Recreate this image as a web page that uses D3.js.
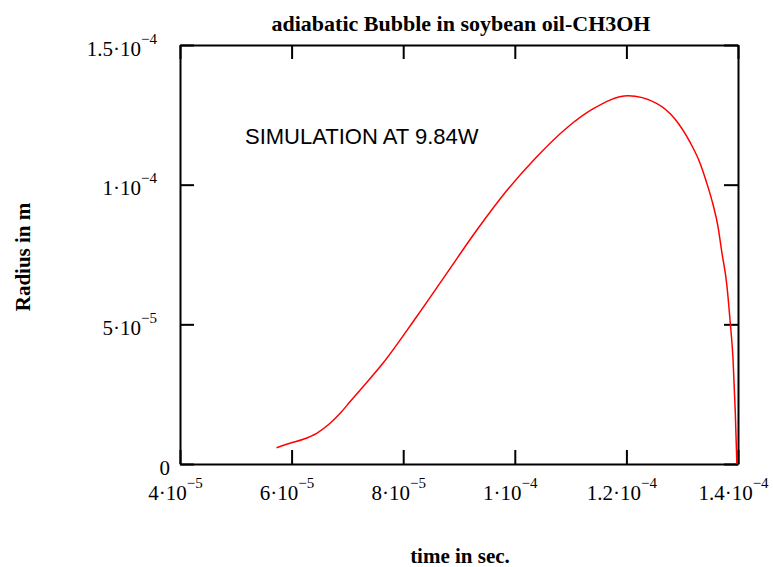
<!DOCTYPE html>
<html>
<head>
<meta charset="utf-8">
<script src="https://cdn.jsdelivr.net/npm/d3@7"></script>
<style>
  body { margin: 0; background: #fff; }
  .ejes path, .ejes line { stroke: #000; stroke-width: 2; }
  .ejes text { font-family: 'Liberation Serif', serif; font-size: 21px; fill: #000; }
</style>
</head>
<body>
<div id="graf"></div>
<script>
// tiempo (s) y radio (m)
const tiempo = [5.73e-5, 5.97e-5, 6.21e-5, 6.45e-5, 6.69e-5, 6.87e-5, 7.05e-5, 7.28e-5, 7.64e-5,
  8.24e-5, 8.78e-5, 9.32e-5, 9.85e-5, 10.39e-5, 10.93e-5, 11.40e-5, 12.03e-5, 12.54e-5,
  12.87e-5, 13.14e-5, 13.32e-5, 13.44e-5, 13.55e-5, 13.64e-5, 13.71e-5, 13.80e-5, 13.86e-5,
  13.91e-5, 13.95e-5, 13.98e-5]
const radio = [0.583e-5, 0.741e-5, 0.884e-5, 1.099e-5, 1.457e-5, 1.815e-5, 2.237e-5, 2.767e-5, 3.615e-5,
  5.272e-5, 6.825e-5, 8.375e-5, 9.771e-5, 10.99e-5, 12.03e-5, 12.71e-5, 13.18e-5, 12.91e-5,
  12.35e-5, 11.52e-5, 10.77e-5, 10.06e-5, 9.306e-5, 8.518e-5, 7.588e-5, 6.407e-5, 5.082e-5,
  3.794e-5, 1.933e-5, 0]

const xTicks = [4e-5, 6e-5, 8e-5, 1e-4, 1.2e-4, 1.4e-4]
const yTicks = [0, 5e-5, 1e-4, 1.5e-4]

const titulo = 'adiabatic Bubble in soybean oil-CH3OH'
const txtX = 'time in sec.'
const txtY = 'Radius in m'
const nota = { texto: 'SIMULATION AT 9.84W', t: 5.165e-5, r: 11.45e-5 }

const data = tiempo.map((t, i) => ({ t: t, r: radio[i] }))

const anchoTotal = 773
const altoTotal = 567

const margin = { top: 45, bottom: 103, left: 180, right: 35 }
const ancho = anchoTotal - margin.left - margin.right
const alto = altoTotal - margin.top - margin.bottom

const svg = d3.select('#graf')
  .append('svg')
  .attr('width', anchoTotal)
  .attr('height', altoTotal)

const g = svg.append('g')
  .attr('transform', `translate(${margin.left}, ${margin.top})`)

const x = d3.scaleLinear()
  .domain([4e-5, 1.4e-4])
  .range([0, ancho])

const y = d3.scaleLinear()
  .domain([0, 1.5e-4])
  .range([alto, 0])

// mantisa·10 con exponente en superindice
function sci(sel) {
  sel.each(function(d) {
    const t = d3.select(this).text('')
    if (d === 0) { t.text('0'); return }
    const e = Math.floor(Math.log10(d) + 1e-9)
    const m = +(d / Math.pow(10, e)).toFixed(2)
    t.append('tspan').text(`${m}\u00b710`)
    t.append('tspan')
      .attr('dy', -12)
      .style('font-size', '15px')
      .text(`\u2212${-e}`)
  })
}

const xAxisGroup = g.append('g')
  .attr('class', 'ejes')
  .attr('transform', `translate(0, ${alto})`)
  .call(d3.axisBottom(x).tickValues(xTicks).tickSizeInner(-14).tickSizeOuter(0))

xAxisGroup.selectAll('.tick text')
  .attr('dy', null)
  .attr('y', 36)
  .attr('x', -5)
  .call(sci)

const yAxisGroup = g.append('g')
  .attr('class', 'ejes')
  .call(d3.axisLeft(y).tickValues(yTicks).tickSizeInner(-14).tickSizeOuter(0))

yAxisGroup.selectAll('.tick text')
  .attr('dy', null)
  .attr('y', 10)
  .attr('x', d => d === 0 ? -10 : -23)
  .call(sci)

g.append('g')
  .attr('class', 'ejes')
  .call(d3.axisTop(x).tickValues(xTicks).tickSizeInner(-14).tickSizeOuter(0).tickFormat(''))

g.append('g')
  .attr('class', 'ejes')
  .attr('transform', `translate(${ancho}, 0)`)
  .call(d3.axisRight(y).tickValues(yTicks).tickSizeInner(-14).tickSizeOuter(0).tickFormat(''))

const linea = d3.line()
  .x(d => x(d.t))
  .y(d => y(d.r))
  .curve(d3.curveMonotoneX)

g.append('path')
  .datum(data)
  .attr('d', linea)
  .attr('fill', 'none')
  .attr('stroke', '#ff0000')
  .attr('stroke-width', 1.5)

g.append('text')
  .attr('x', x(nota.t))
  .attr('y', y(nota.r))
  .style('font-family', "'Liberation Sans', Arial, sans-serif")
  .style('font-size', '22px')
  .text(nota.texto)

svg.append('text')
  .attr('x', margin.left + ancho / 2 + 2)
  .attr('y', 31)
  .attr('text-anchor', 'middle')
  .style('font-family', "'Liberation Serif', serif")
  .style('font-weight', 'bold')
  .style('font-size', '22px')
  .text(titulo)

svg.append('text')
  .attr('x', margin.left + ancho / 2 + 1)
  .attr('y', 563)
  .attr('text-anchor', 'middle')
  .style('font-family', "'Liberation Serif', serif")
  .style('font-weight', 'bold')
  .style('font-size', '21px')
  .text(txtX)

svg.append('text')
  .attr('transform', 'translate(30, 257) rotate(-90)')
  .attr('text-anchor', 'middle')
  .style('font-family', "'Liberation Serif', serif")
  .style('font-weight', 'bold')
  .style('font-size', '21px')
  .text(txtY)
</script>
</body>
</html>
